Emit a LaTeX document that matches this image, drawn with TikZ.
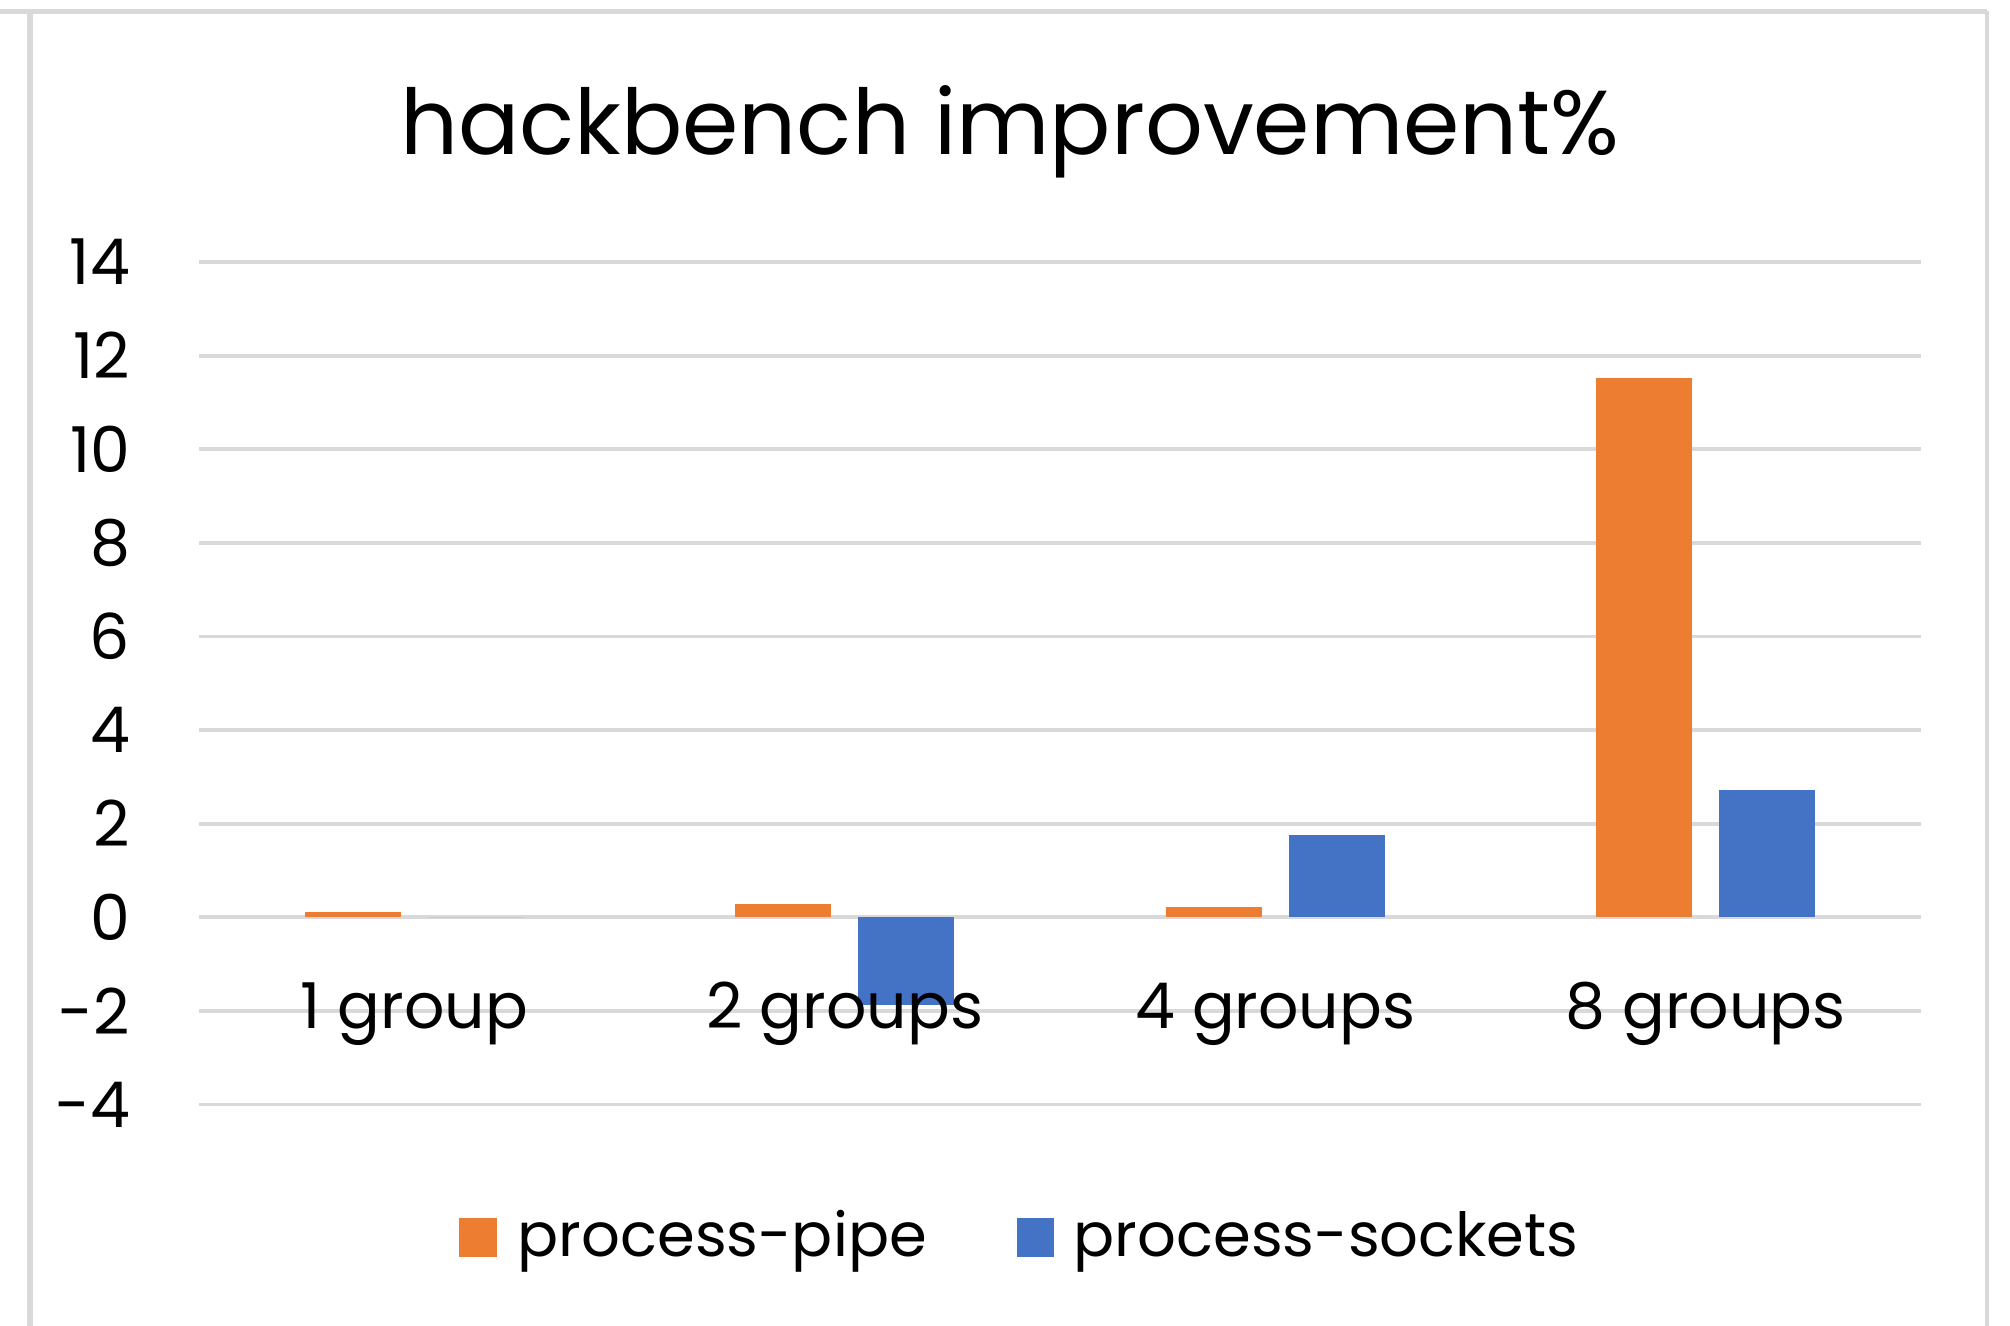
\documentclass[tikz,border=0pt]{standalone}
\usepackage{fontspec}
\setmainfont{Poppins}
\definecolor{pipeorange}{HTML}{ED7D31}
\definecolor{sockblue}{HTML}{4472C4}
\definecolor{gridgray}{HTML}{D9D9D9}
\tikzset{
  gridline/.style={gridgray, line width=1.1pt},
  framedge/.style={gridgray, line width=1.3pt},
  ylab/.style={anchor=east, inner sep=0pt, font=\fontsize{18}{20}\selectfont},
  xlab/.style={anchor=base, inner sep=0pt, font=\fontsize{18}{20}\selectfont},
  leglab/.style={anchor=base west, inner sep=0pt, font=\fontsize{17.3}{20}\selectfont},
}
\begin{document}
\begin{tikzpicture}
    \useasboundingbox (0,0) rectangle (20.10,13.26);
    \draw[framedge](0,13.145)--(19.87,13.145);
    \draw[framedge, line width=1.6pt](0.30,13.145)--(0.30,0);
    \draw[framedge](19.87,13.145)--(19.87,0);
    \node[anchor=base, inner sep=0pt, font=\fontsize{25.8}{30}\selectfont] (title) at (10.10,11.71) {hackbench improvement\%};
    \foreach \v in {-4,-2,...,14}{
        \draw[gridline](1.993,4.087+0.468*\v)--(19.207,4.087+0.468*\v);
        \node[ylab] (y\v) at (1.307,4.087+0.468*\v) {\v};
    }
    \foreach \c/\p/\s/\lab/\nm in {4.145/0.12/0/1 group/one, 8.449/0.28/-1.87/2 groups/two, 12.752/0.21/1.76/4 groups/four, 17.056/11.53/2.72/8 groups/eight}{
        \fill[pipeorange](\c-1.095,4.087) rectangle (\c-0.135,4.087+0.468*\p);
        \fill[sockblue](\c+0.135,4.087) rectangle (\c+1.095,4.087+0.468*\s);
        \node[xlab] (\nm) at (\c,2.97) {\lab};
    }
    \fill[pipeorange](4.59,0.69) rectangle (4.97,1.08);
    \node[leglab] (pipekey) at (5.17,0.69) {process-pipe};
    \fill[sockblue](10.17,0.69) rectangle (10.54,1.08);
    \node[leglab] (sockkey) at (10.73,0.69) {process-sockets};
\end{tikzpicture}
\end{document}
